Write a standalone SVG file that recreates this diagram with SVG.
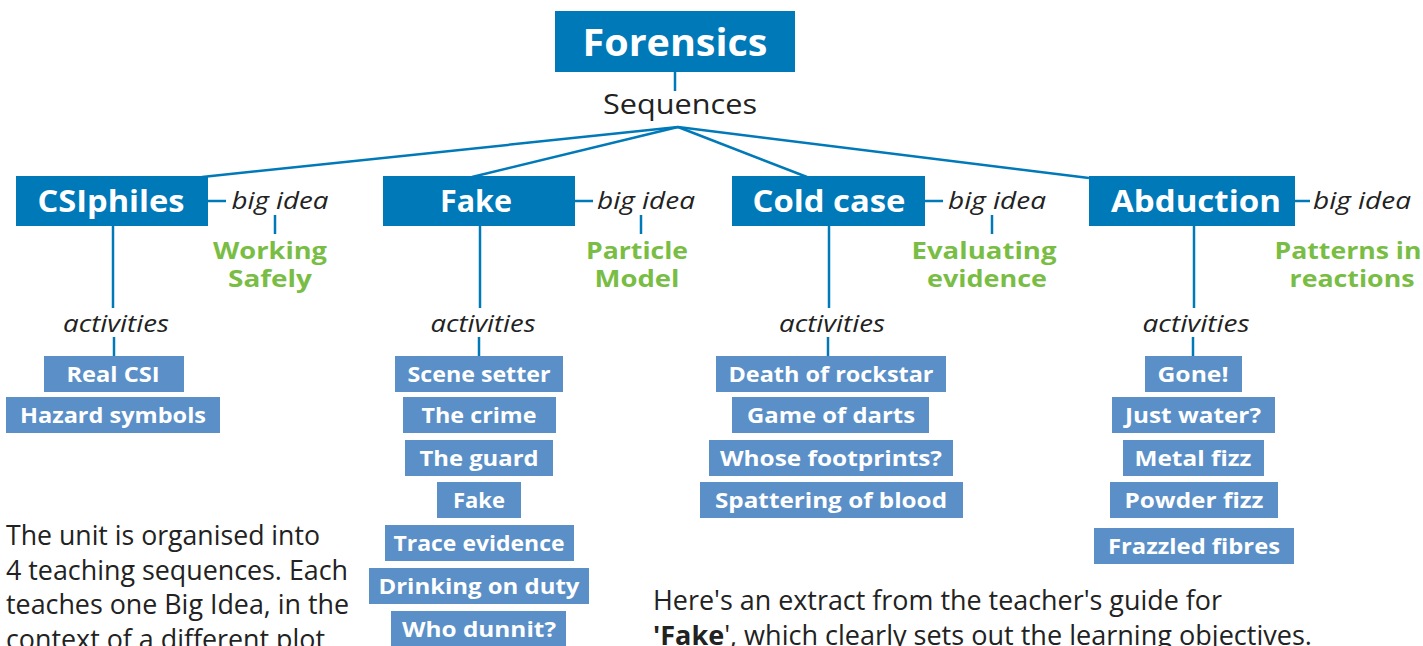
<svg xmlns="http://www.w3.org/2000/svg" width="1423" height="646" viewBox="0 0 1423 646">
<style>
text{font-family:"Open Sans","Noto Sans","DejaVu Sans",sans-serif}
.bg{fill:#ffffff}
.main{fill:#0079b9}
.act{fill:#5a8fc7}
.tw{fill:#ffffff;font-weight:700;text-anchor:middle}
.seq{font-size:31px}
.atx{font-size:22px}
.it{font-style:italic;font-size:24px;fill:#222222;text-anchor:middle}
.grn{fill:#79bd45;font-weight:700;font-size:23px;text-anchor:middle}
.body{fill:#222222;font-size:27px}
.ln{stroke:#0079b9;stroke-width:2.5;fill:none}
</style>
<rect class="bg" x="0" y="0" width="1423" height="646"/>

<g id="connectors">
<line class="ln" x1="675" y1="72" x2="675" y2="91"/>
<line class="ln" x1="678" y1="127" x2="202" y2="177"/>
<line class="ln" x1="678" y1="127" x2="472" y2="177"/>
<line class="ln" x1="678" y1="127" x2="807" y2="177"/>
<line class="ln" x1="678" y1="127" x2="1089" y2="178"/>
<line class="ln" x1="208" y1="201" x2="226" y2="201"/>
<line class="ln" x1="575" y1="201" x2="593" y2="201"/>
<line class="ln" x1="925" y1="201" x2="943" y2="201"/>
<line class="ln" x1="1295" y1="201" x2="1310" y2="201"/>
<line class="ln" x1="275" y1="215" x2="275" y2="234"/>
<line class="ln" x1="641" y1="215" x2="641" y2="234"/>
<line class="ln" x1="992" y1="215" x2="992" y2="234"/>
<line class="ln" x1="113" y1="226" x2="113" y2="308"/>
<line class="ln" x1="480" y1="226" x2="480" y2="308"/>
<line class="ln" x1="829" y1="226" x2="829" y2="308"/>
<line class="ln" x1="1194" y1="226" x2="1194" y2="308"/>
<line class="ln" x1="114" y1="337" x2="114" y2="356"/>
<line class="ln" x1="479" y1="337" x2="479" y2="356"/>
<line class="ln" x1="828" y1="337" x2="828" y2="356"/>
<line class="ln" x1="1193" y1="337" x2="1193" y2="356"/>
</g>

<g id="forensics">
<rect class="main" x="555" y="11" width="240" height="61"/>
<text class="tw" x="675" y="56" font-size="38" textLength="185" lengthAdjust="spacingAndGlyphs">Forensics</text>
</g>
<g id="sequences">
<text x="680" y="114" font-size="28" fill="#222222" text-anchor="middle" textLength="154" lengthAdjust="spacingAndGlyphs">Sequences</text>
</g>

<g id="csiphiles">
<rect class="main" x="16" y="176" width="192" height="50"/>
<text class="tw seq" x="111" y="212" textLength="147" lengthAdjust="spacingAndGlyphs">CSIphiles</text>
</g>
<g id="fake">
<rect class="main" x="383" y="176" width="192" height="50"/>
<text class="tw seq" x="476" y="212" textLength="72" lengthAdjust="spacingAndGlyphs">Fake</text>
</g>
<g id="coldcase">
<rect class="main" x="732" y="176" width="193" height="50"/>
<text class="tw seq" x="829" y="212" textLength="153" lengthAdjust="spacingAndGlyphs">Cold case</text>
</g>
<g id="abduction">
<rect class="main" x="1089" y="176" width="206" height="50"/>
<text class="tw seq" x="1196" y="212" textLength="170" lengthAdjust="spacingAndGlyphs">Abduction</text>
</g>

<g id="bigidea-labels">
<text class="it" x="280" y="209" textLength="97" lengthAdjust="spacingAndGlyphs">big idea</text>
<text class="it" x="646" y="209" textLength="98" lengthAdjust="spacingAndGlyphs">big idea</text>
<text class="it" x="997" y="209" textLength="98" lengthAdjust="spacingAndGlyphs">big idea</text>
<text class="it" x="1362" y="209" textLength="98" lengthAdjust="spacingAndGlyphs">big idea</text>
</g>

<g id="bigidea-working-safely">
<text class="grn" x="270" y="259" textLength="114" lengthAdjust="spacingAndGlyphs">Working</text>
<text class="grn" x="270" y="287" textLength="84" lengthAdjust="spacingAndGlyphs">Safely</text>
</g>
<g id="bigidea-particle-model">
<text class="grn" x="637" y="259" textLength="102" lengthAdjust="spacingAndGlyphs">Particle</text>
<text class="grn" x="637" y="287" textLength="85" lengthAdjust="spacingAndGlyphs">Model</text>
</g>
<g id="bigidea-evaluating-evidence">
<text class="grn" x="984" y="259" textLength="145" lengthAdjust="spacingAndGlyphs">Evaluating</text>
<text class="grn" x="987" y="287" textLength="120" lengthAdjust="spacingAndGlyphs">evidence</text>
</g>
<g id="bigidea-patterns">
<text class="grn" x="1348" y="259" textLength="147" lengthAdjust="spacingAndGlyphs">Patterns in</text>
<text class="grn" x="1352" y="287" textLength="125" lengthAdjust="spacingAndGlyphs">reactions</text>
</g>

<g id="activities-labels">
<text class="it" x="116" y="332" textLength="106" lengthAdjust="spacingAndGlyphs">activities</text>
<text class="it" x="483" y="332" textLength="105" lengthAdjust="spacingAndGlyphs">activities</text>
<text class="it" x="832" y="332" textLength="106" lengthAdjust="spacingAndGlyphs">activities</text>
<text class="it" x="1196" y="332" textLength="107" lengthAdjust="spacingAndGlyphs">activities</text>
</g>

<g id="act-real-csi"><rect class="act" x="44" y="356" width="140" height="36"/><text class="tw atx" x="113" y="382" textLength="93" lengthAdjust="spacingAndGlyphs">Real CSI</text></g>
<g id="act-hazard-symbols"><rect class="act" x="6" y="397" width="214" height="36"/><text class="tw atx" x="113" y="423" textLength="186" lengthAdjust="spacingAndGlyphs">Hazard symbols</text></g>

<g id="act-scene-setter"><rect class="act" x="395" y="356" width="168" height="36"/><text class="tw atx" x="479" y="382" textLength="143" lengthAdjust="spacingAndGlyphs">Scene setter</text></g>
<g id="act-the-crime"><rect class="act" x="403" y="397" width="153" height="36"/><text class="tw atx" x="479" y="423" textLength="115" lengthAdjust="spacingAndGlyphs">The crime</text></g>
<g id="act-the-guard"><rect class="act" x="405" y="440" width="148" height="36"/><text class="tw atx" x="479" y="466" textLength="119" lengthAdjust="spacingAndGlyphs">The guard</text></g>
<g id="act-fake"><rect class="act" x="437" y="482" width="84" height="36"/><text class="tw atx" x="479" y="508" textLength="52" lengthAdjust="spacingAndGlyphs">Fake</text></g>
<g id="act-trace-evidence"><rect class="act" x="385" y="525" width="189" height="36"/><text class="tw atx" x="479" y="551" textLength="171" lengthAdjust="spacingAndGlyphs">Trace evidence</text></g>
<g id="act-drinking-on-duty"><rect class="act" x="369" y="568" width="220" height="36"/><text class="tw atx" x="479" y="594" textLength="201" lengthAdjust="spacingAndGlyphs">Drinking on duty</text></g>
<g id="act-who-dunnit"><rect class="act" x="391" y="611" width="175" height="36"/><text class="tw atx" x="479" y="637" textLength="154" lengthAdjust="spacingAndGlyphs">Who dunnit?</text></g>

<g id="act-death-of-rockstar"><rect class="act" x="716" y="356" width="230" height="36"/><text class="tw atx" x="831" y="382" textLength="205" lengthAdjust="spacingAndGlyphs">Death of rockstar</text></g>
<g id="act-game-of-darts"><rect class="act" x="732" y="397" width="197" height="36"/><text class="tw atx" x="831" y="423" textLength="168" lengthAdjust="spacingAndGlyphs">Game of darts</text></g>
<g id="act-whose-footprints"><rect class="act" x="709" y="440" width="244" height="36"/><text class="tw atx" x="831" y="466" textLength="222" lengthAdjust="spacingAndGlyphs">Whose footprints?</text></g>
<g id="act-spattering-of-blood"><rect class="act" x="700" y="482" width="263" height="36"/><text class="tw atx" x="831" y="508" textLength="232" lengthAdjust="spacingAndGlyphs">Spattering of blood</text></g>

<g id="act-gone"><rect class="act" x="1145" y="356" width="97" height="36"/><text class="tw atx" x="1193" y="382" textLength="71" lengthAdjust="spacingAndGlyphs">Gone!</text></g>
<g id="act-just-water"><rect class="act" x="1112" y="397" width="163" height="36"/><text class="tw atx" x="1193" y="423" textLength="136" lengthAdjust="spacingAndGlyphs">Just water?</text></g>
<g id="act-metal-fizz"><rect class="act" x="1123" y="440" width="141" height="36"/><text class="tw atx" x="1193" y="466" textLength="117" lengthAdjust="spacingAndGlyphs">Metal fizz</text></g>
<g id="act-powder-fizz"><rect class="act" x="1110" y="482" width="168" height="36"/><text class="tw atx" x="1194" y="508" textLength="139" lengthAdjust="spacingAndGlyphs">Powder fizz</text></g>
<g id="act-frazzled-fibres"><rect class="act" x="1094" y="528" width="200" height="36"/><text class="tw atx" x="1194" y="554" textLength="172" lengthAdjust="spacingAndGlyphs">Frazzled fibres</text></g>

<g id="note-left">
<text class="body" x="6" y="545" textLength="314" lengthAdjust="spacingAndGlyphs">The unit is organised into</text>
<text class="body" x="6" y="580" textLength="342" lengthAdjust="spacingAndGlyphs">4 teaching sequences. Each</text>
<text class="body" x="6" y="614" textLength="343" lengthAdjust="spacingAndGlyphs">teaches one Big Idea, in the</text>
<text class="body" x="6" y="649" textLength="319" lengthAdjust="spacingAndGlyphs">context of a different plot</text>
</g>
<g id="note-right">
<text class="body" x="653" y="610" textLength="569" lengthAdjust="spacingAndGlyphs">Here's an extract from the teacher's guide for</text>
<text class="body" x="653" y="645" textLength="659" lengthAdjust="spacingAndGlyphs"><tspan font-weight="700">'Fake</tspan>', which clearly sets out the learning objectives.</text>
</g>
</svg>
